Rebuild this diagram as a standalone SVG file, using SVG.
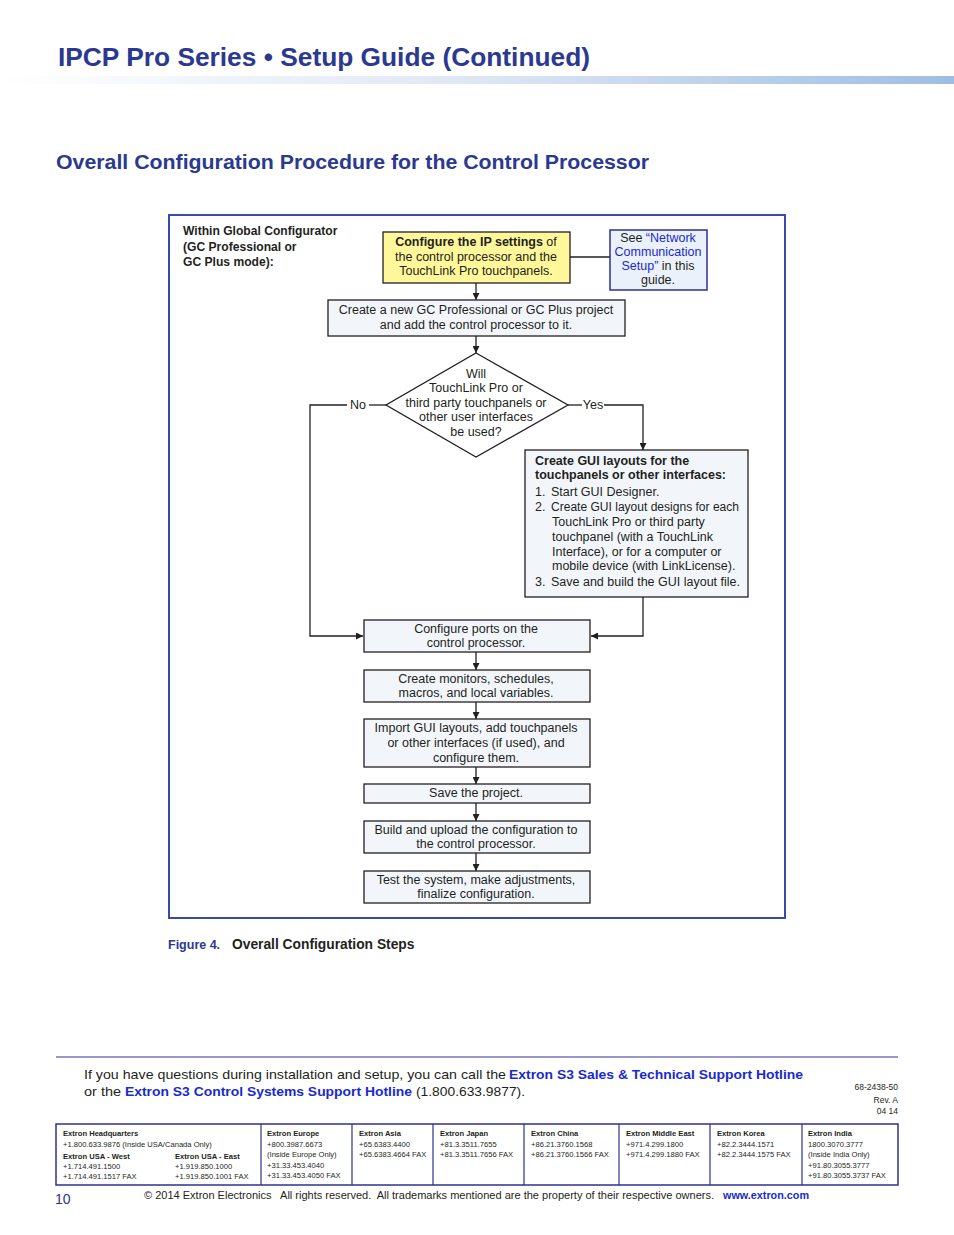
<svg xmlns="http://www.w3.org/2000/svg" width="954" height="1235" viewBox="0 0 954 1235">
<defs>
<linearGradient id="bar" x1="0" y1="0" x2="1" y2="0">
<stop offset="0" stop-color="#ffffff"/>
<stop offset="0.5" stop-color="#dde7f4"/>
<stop offset="1" stop-color="#9fbde3"/>
</linearGradient>
<marker id="arr" viewBox="0 0 8 8" refX="8" refY="4" markerWidth="7" markerHeight="7" markerUnits="userSpaceOnUse" orient="auto">
<path d="M0,0 L8,4 L0,8 Z" fill="#231f20"/>
</marker>
</defs>
<style>
text{font-family:"Liberation Sans",Arial,sans-serif;fill:#231f20}
.t{font-size:12.5px}
.w{font-size:12.1px}
.c{text-anchor:middle}
.b{font-weight:bold}
.box{fill:#f2f6fb;stroke:#231f20;stroke-width:1.3}
.ln{fill:none;stroke:#231f20;stroke-width:1.3}
.hd{fill:#2b3990;font-weight:bold}
.lk{fill:#1a2ad0}
.ft{font-size:7.6px}
.tb{fill:none;stroke:#2e3192;stroke-width:1.5}
</style>
<rect width="954" height="1235" fill="#ffffff"/>
<!-- Header -->
<text x="58" y="66" class="hd" font-size="26" textLength="532" lengthAdjust="spacingAndGlyphs">IPCP Pro Series • Setup Guide (Continued)</text>
<rect x="0" y="76" width="954" height="8" fill="url(#bar)"/>
<text x="56" y="169" class="hd" font-size="20" textLength="593" lengthAdjust="spacingAndGlyphs">Overall Configuration Procedure for the Control Processor</text>
<!-- Frame -->
<rect x="169" y="215" width="616" height="703" fill="none" stroke="#3a4aa8" stroke-width="2"/>
<g id="label-within">
<text x="183" y="235" class="w b">Within Global Configurator</text>
<text x="183" y="251" class="w b">(GC Professional or</text>
<text x="183" y="266" class="w b">GC Plus mode):</text>
</g>
<!-- Connectors -->
<g id="connectors">
<line x1="570" y1="257" x2="610" y2="257" class="ln"/>
<line x1="476" y1="283" x2="476" y2="300" class="ln" marker-end="url(#arr)"/>
<line x1="476" y1="336" x2="476" y2="353" class="ln" marker-end="url(#arr)"/>
<polyline points="386,405 369,405" class="ln"/>
<polyline points="347,405 310,405 310,636 363,636" class="ln" marker-end="url(#arr)"/>
<polyline points="568,405 582,405" class="ln"/>
<polyline points="604,405 643,405 643,450" class="ln" marker-end="url(#arr)"/>
<polyline points="643,597 643,636 591,636" class="ln" marker-end="url(#arr)"/>
<line x1="476" y1="652" x2="476" y2="670" class="ln" marker-end="url(#arr)"/>
<line x1="476" y1="702" x2="476" y2="719" class="ln" marker-end="url(#arr)"/>
<line x1="476" y1="767" x2="476" y2="784" class="ln" marker-end="url(#arr)"/>
<line x1="476" y1="803" x2="476" y2="821" class="ln" marker-end="url(#arr)"/>
<line x1="476" y1="853" x2="476" y2="871" class="ln" marker-end="url(#arr)"/>
<text x="358" y="409" class="t c">No</text>
<text x="593" y="409" class="t c">Yes</text>
</g>
<!-- Nodes -->
<g id="n-ip">
<rect x="383" y="232" width="187" height="51" fill="#fff799" stroke="#231f20" stroke-width="1.3"/>
<text x="476" y="246" class="t c"><tspan class="b">Configure the IP settings</tspan> of</text>
<text x="476" y="261" class="t c">the control processor and the</text>
<text x="476" y="275" class="t c">TouchLink Pro touchpanels.</text>
</g>
<g id="n-see">
<rect x="610" y="230" width="97" height="60" fill="#eaf1fa" stroke="#2e3192" stroke-width="1.5"/>
<text x="658" y="242" class="t c">See <tspan class="lk">“Network</tspan></text>
<text x="658" y="256" class="t c lk">Communication</text>
<text x="658" y="270" class="t c"><tspan class="lk">Setup”</tspan> in this</text>
<text x="658" y="284" class="t c">guide.</text>
</g>
<g id="n-create">
<rect x="328" y="300" width="297" height="36" class="box"/>
<text x="476" y="314" class="t c">Create a new GC Professional or GC Plus project</text>
<text x="476" y="329" class="t c">and add the control processor to it.</text>
</g>
<g id="n-decision">
<polygon points="476,353 568,405 476,457 386,405" fill="#ffffff" stroke="#231f20" stroke-width="1.3"/>
<text x="476" y="378" class="t c">Will</text>
<text x="476" y="392" class="t c">TouchLink Pro or</text>
<text x="476" y="407" class="t c">third party touchpanels or</text>
<text x="476" y="421" class="t c">other user interfaces</text>
<text x="476" y="436" class="t c">be used?</text>
</g>
<g id="n-gui">
<rect x="525" y="450" width="223" height="147" class="box"/>
<text x="535" y="465" class="t b">Create GUI layouts for the</text>
<text x="535" y="479" class="t b">touchpanels or other interfaces:</text>
<text x="535" y="496" class="t">1.</text><text x="551" y="496" class="t">Start GUI Designer.</text>
<text x="535" y="511" class="t">2.</text><text x="551" y="511" class="t" textLength="188" lengthAdjust="spacingAndGlyphs">Create GUI layout designs for each</text>
<text x="552" y="526" class="t">TouchLink Pro or third party</text>
<text x="552" y="541" class="t">touchpanel (with a TouchLink</text>
<text x="552" y="556" class="t">Interface), or for a computer or</text>
<text x="552" y="570" class="t">mobile device (with LinkLicense).</text>
<text x="535" y="586" class="t">3.</text><text x="551" y="586" class="t">Save and build the GUI layout file.</text>
</g>
<g id="n-ports">
<rect x="364" y="620" width="226" height="32" class="box"/>
<text x="476" y="633" class="t c">Configure ports on the</text>
<text x="476" y="647" class="t c">control processor.</text>
</g>
<g id="n-monitors">
<rect x="364" y="670" width="226" height="32" class="box"/>
<text x="476" y="683" class="t c">Create monitors, schedules,</text>
<text x="476" y="697" class="t c">macros, and local variables.</text>
</g>
<g id="n-import">
<rect x="364" y="719" width="226" height="48" class="box"/>
<text x="476" y="732" class="t c">Import GUI layouts, add touchpanels</text>
<text x="476" y="747" class="t c">or other interfaces (if used), and</text>
<text x="476" y="762" class="t c">configure them.</text>
</g>
<g id="n-save">
<rect x="364" y="784" width="226" height="19" class="box"/>
<text x="476" y="797" class="t c">Save the project.</text>
</g>
<g id="n-build">
<rect x="364" y="821" width="226" height="32" class="box"/>
<text x="476" y="834" class="t c">Build and upload the configuration to</text>
<text x="476" y="848" class="t c">the control processor.</text>
</g>
<g id="n-test">
<rect x="364" y="871" width="226" height="32" class="box"/>
<text x="476" y="884" class="t c">Test the system, make adjustments,</text>
<text x="476" y="898" class="t c">finalize configuration.</text>
</g>
<!-- Caption -->
<text x="168" y="949" font-size="12.5" class="b" style="fill:#2b3990">Figure 4.</text>
<text x="232" y="949" font-size="13.8" class="b">Overall Configuration Steps</text>
<!-- Footer -->
<line x1="56" y1="1057" x2="898" y2="1057" stroke="#2e3192" stroke-width="1"/>
<text x="84" y="1079" font-size="13.5" textLength="422" lengthAdjust="spacingAndGlyphs">If you have questions during installation and setup, you can call the</text>
<text x="509" y="1079" font-size="13.5" class="b lk" textLength="294" lengthAdjust="spacingAndGlyphs">Extron S3 Sales &amp; Technical Support Hotline</text>
<text x="84" y="1096" font-size="13.5" textLength="37" lengthAdjust="spacingAndGlyphs">or the</text>
<text x="125" y="1096" font-size="13.5" class="b lk" textLength="287" lengthAdjust="spacingAndGlyphs">Extron S3 Control Systems Support Hotline</text>
<text x="416" y="1096" font-size="13.5" textLength="109" lengthAdjust="spacingAndGlyphs">(1.800.633.9877).</text>
<text x="898" y="1090" font-size="8.5" text-anchor="end">68-2438-50</text>
<text x="898" y="1103" font-size="8.5" text-anchor="end">Rev. A</text>
<text x="898" y="1114" font-size="8.5" text-anchor="end">04 14</text>
<rect x="56" y="1124" width="842" height="61" class="tb"/>
<g stroke="#2e3192" stroke-width="1.2">
<line x1="261" y1="1124" x2="261" y2="1185"/>
<line x1="352" y1="1124" x2="352" y2="1185"/>
<line x1="433" y1="1124" x2="433" y2="1185"/>
<line x1="524" y1="1124" x2="524" y2="1185"/>
<line x1="619" y1="1124" x2="619" y2="1185"/>
<line x1="710" y1="1124" x2="710" y2="1185"/>
<line x1="802" y1="1124" x2="802" y2="1185"/>
</g>
<g class="ft">
<text x="63" y="1136" class="ft b">Extron Headquarters</text>
<text x="63" y="1147" class="ft">+1.800.633.9876 (Inside USA/Canada Only)</text>
<text x="63" y="1159" class="ft b">Extron USA - West</text>
<text x="63" y="1169" class="ft">+1.714.491.1500</text>
<text x="63" y="1179" class="ft">+1.714.491.1517 FAX</text>
<text x="175" y="1159" class="ft b">Extron USA - East</text>
<text x="175" y="1169" class="ft">+1.919.850.1000</text>
<text x="175" y="1179" class="ft">+1.919.850.1001 FAX</text>
<text x="267" y="1136" class="ft b">Extron Europe</text>
<text x="267" y="1147" class="ft">+800.3987.6673</text>
<text x="267" y="1157" class="ft">(Inside Europe Only)</text>
<text x="267" y="1168" class="ft">+31.33.453.4040</text>
<text x="267" y="1178" class="ft">+31.33.453.4050 FAX</text>
<text x="359" y="1136" class="ft b">Extron Asia</text>
<text x="359" y="1147" class="ft">+65.6383.4400</text>
<text x="359" y="1157" class="ft">+65.6383.4664 FAX</text>
<text x="440" y="1136" class="ft b">Extron Japan</text>
<text x="440" y="1147" class="ft">+81.3.3511.7655</text>
<text x="440" y="1157" class="ft">+81.3.3511.7656 FAX</text>
<text x="531" y="1136" class="ft b">Extron China</text>
<text x="531" y="1147" class="ft">+86.21.3760.1568</text>
<text x="531" y="1157" class="ft">+86.21.3760.1566 FAX</text>
<text x="626" y="1136" class="ft b">Extron Middle East</text>
<text x="626" y="1147" class="ft">+971.4.299.1800</text>
<text x="626" y="1157" class="ft">+971.4.299.1880 FAX</text>
<text x="717" y="1136" class="ft b">Extron Korea</text>
<text x="717" y="1147" class="ft">+82.2.3444.1571</text>
<text x="717" y="1157" class="ft">+82.2.3444.1575 FAX</text>
<text x="808" y="1136" class="ft b">Extron India</text>
<text x="808" y="1147" class="ft">1800.3070.3777</text>
<text x="808" y="1157" class="ft">(Inside India Only)</text>
<text x="808" y="1168" class="ft">+91.80.3055.3777</text>
<text x="808" y="1178" class="ft">+91.80.3055.3737 FAX</text>
</g>
<text x="55" y="1204" font-size="14" style="fill:#2e3192">10</text>
<text x="144" y="1199" font-size="10" textLength="570" lengthAdjust="spacingAndGlyphs" xml:space="preserve">© 2014 Extron Electronics   All rights reserved.  All trademarks mentioned are the property of their respective owners.</text>
<text x="723" y="1199" font-size="10.8" class="b lk">www.extron.com</text>
</svg>
